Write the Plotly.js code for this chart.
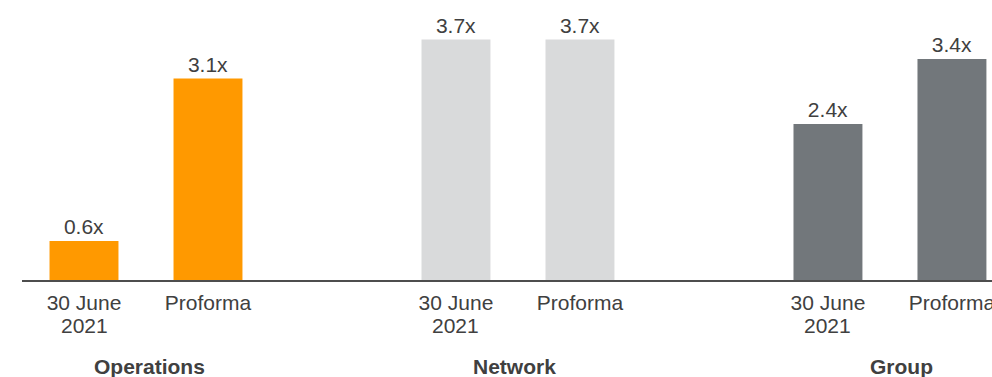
<!DOCTYPE html>
<html>
<head>
<meta charset="utf-8">
<script src="https://cdn.plot.ly/plotly-3.0.1.min.js"></script>
<style>html,body{margin:0;padding:0;background:#fff}#chart{width:992px;height:377px}</style>
</head>
<body>
<div id="chart"></div>
<script>
// Data
const groups = ["Operations", "Network", "Group"];
const periods = ["30 June", "Proforma"];
const periodsLine2 = ["2021", ""];
const operationsValues = [0.6, 3.1];
const networkValues = [3.7, 3.7];
const groupValues = [2.4, 3.4];
const seriesValues = [operationsValues, networkValues, groupValues];
const colors = ["#FF9900", "#D9DADB", "#72777B"];

const FONT = "Liberation Sans, Arial, Helvetica, sans-serif";
const TXT = "#404040";
const FS = 21;

const traces = groups.map((g, gi) => ({
  type: "bar",
  name: g,
  x: periods.map((p, pi) => gi * 3 + pi),
  y: seriesValues[gi],
  width: 0.556,
  marker: {color: colors[gi], line: {width: 0}},
  text: seriesValues[gi].map(v => v.toFixed(1) + "x"),
  textposition: "outside",
  textfont: {family: FONT, size: FS, color: TXT},
  cliponaxis: false,
  hoverinfo: "skip"
}));

const tickvals = [], ticktext = [];
groups.forEach((g, gi) => periods.forEach((p, pi) => { tickvals.push(gi * 3 + pi); ticktext.push(p); }));

const annotations = [];
groups.forEach((g, gi) => periodsLine2.forEach((p, pi) => {
  if (!p) return;
  annotations.push({
    text: p, x: gi * 3 + pi, xref: "x",
    y: -0.161, yref: "paper", xanchor: "center", yanchor: "middle",
    showarrow: false, font: {family: FONT, size: FS, color: TXT}
  });
}));

const groupLabelX = [0.53, 3.47, 6.59];
groups.forEach((g, gi) => annotations.push({
  text: "<b>" + g + "</b>",
  x: groupLabelX[gi], xref: "x",
  y: -0.31, yref: "paper",
  xanchor: "center", yanchor: "middle",
  showarrow: false,
  font: {family: FONT, size: FS, color: TXT}
}));

const layout = {
  width: 992, height: 377,
  margin: {l: 22, r: 0, t: 0, b: 97, pad: 0},
  paper_bgcolor: "#fff", plot_bgcolor: "#fff",
  showlegend: false,
  barmode: "group",
  font: {family: FONT, size: FS, color: TXT},
  xaxis: {
    range: [-0.5, 7.323],
    tickvals: tickvals, ticktext: ticktext,
    tickfont: {family: FONT, size: FS, color: TXT},
    ticklabeloverflow: "allow",
    ticklabelstandoff: 3,
    showgrid: false, zeroline: false,
    showline: true, linecolor: "#4d4d4d", linewidth: 2,
    ticks: "", fixedrange: true
  },
  yaxis: {
    range: [0, 4.308],
    visible: false, showgrid: false, zeroline: false, fixedrange: true
  },
  annotations: annotations
};

Plotly.newPlot("chart", traces, layout, {displayModeBar: false, staticPlot: true});
</script>
</body>
</html>
